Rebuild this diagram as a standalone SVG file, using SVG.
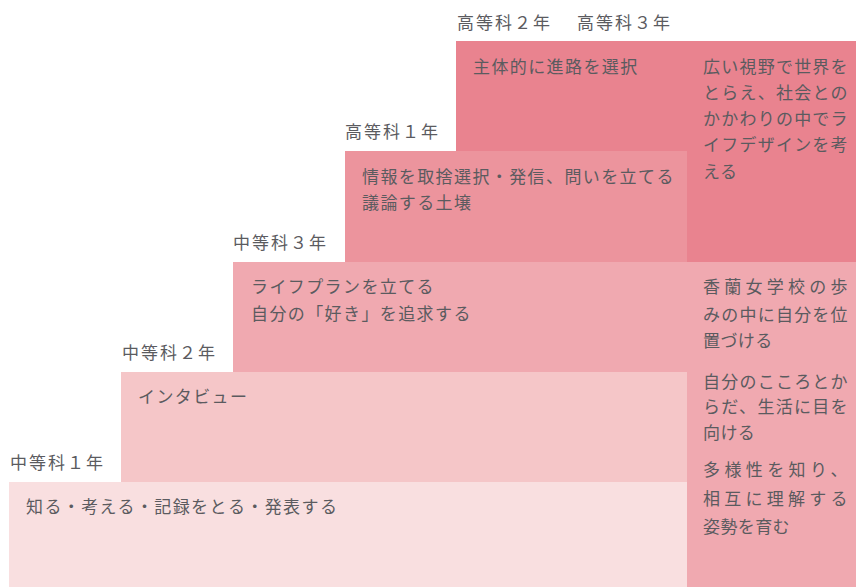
<svg xmlns="http://www.w3.org/2000/svg" width="856" height="587" viewBox="0 0 856 587">
<style>
text{font-family:"Noto Sans CJK JP","Noto Sans",sans-serif;fill:#5b5b5f;font-size:17px}
.lbl{letter-spacing:2px}
.box{letter-spacing:1.4px}
.col{letter-spacing:0.4px}
</style>
<rect width="856" height="587" fill="#ffffff"/>
<g id="k23">
<rect x="456" y="41" width="400" height="221" fill="#E9838F"/>
<text class="lbl" x="457" y="29">高等科２年</text>
<text class="lbl" x="577" y="29">高等科３年</text>
<text class="box" x="473" y="73">主体的に進路を選択</text>
<text class="col" x="703" y="73" textLength="145" lengthAdjust="spacing">広い視野で世界を</text>
<text class="col" x="703" y="99" textLength="145" lengthAdjust="spacing">とらえ、社会との</text>
<text class="col" x="703" y="125" textLength="145" lengthAdjust="spacing">かかわりの中でラ</text>
<text class="col" x="703" y="151" textLength="145" lengthAdjust="spacing">イフデザインを考</text>
<text class="col" x="703" y="178">える</text>
</g>
<g id="k1">
<rect x="345" y="151" width="342" height="111" fill="#EC949D"/>
<text class="lbl" x="345" y="138">高等科１年</text>
<text class="box" x="362" y="183">情報を取捨選択・発信、問いを立てる</text>
<text class="box" x="362" y="209">議論する土壌</text>
</g>
<g id="c3">
<rect x="233" y="262" width="623" height="110" fill="#F0A9B0"/>
<rect x="687" y="262" width="169" height="325" fill="#F0A9B0"/>
<text class="lbl" x="233" y="249">中等科３年</text>
<text class="box" x="251" y="293">ライフプランを立てる</text>
<text class="box" x="251" y="320">自分の「好き」を追求する</text>
<text class="col" x="703" y="293" textLength="145" lengthAdjust="spacing">香蘭女学校の歩</text>
<text class="col" x="703" y="321" textLength="145" lengthAdjust="spacing">みの中に自分を位</text>
<text class="col" x="703" y="347">置づける</text>
</g>
<g id="c2">
<rect x="121" y="372" width="566" height="110" fill="#F5C6C8"/>
<text class="lbl" x="122" y="359">中等科２年</text>
<text class="box" x="138" y="403">インタビュー</text>
<text class="col" x="703" y="388" textLength="145" lengthAdjust="spacing">自分のこころとか</text>
<text class="col" x="703" y="413" textLength="145" lengthAdjust="spacing">らだ、生活に目を</text>
<text class="col" x="703" y="439">向ける</text>
</g>
<g id="c1">
<rect x="9" y="482" width="678" height="105" fill="#F9DFE0"/>
<text class="lbl" x="10" y="469">中等科１年</text>
<text class="box" x="26" y="513">知る・考える・記録をとる・発表する</text>
<text class="col" x="703" y="476" textLength="145" lengthAdjust="spacing">多様性を知り、</text>
<text class="col" x="703" y="505" textLength="145" lengthAdjust="spacing">相互に理解する</text>
<text class="col" x="703" y="533">姿勢を育む</text>
</g>
<g id="connectors"/>
</svg>
